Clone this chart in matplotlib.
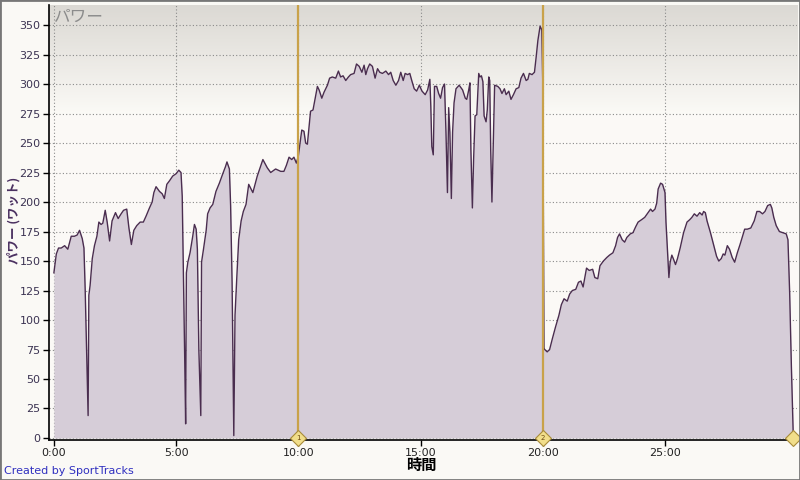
import matplotlib.pyplot as plt
import matplotlib.patches as patches
import numpy as np

plt.rcParams['font.family'] = ['DejaVu Sans', 'Noto Sans CJK JP']

# 時間 (分) とパワー (ワット)
minutes = [0.0, 0.1, 0.19, 0.3, 0.44, 0.57, 0.71, 0.84, 0.95, 1.05, 1.16, 1.23, 1.28, 1.35, 1.40,
           1.43, 1.48, 1.57, 1.66, 1.76, 1.84, 1.93, 2.0, 2.1, 2.18, 2.28, 2.38, 2.52, 2.63, 2.75,
           2.85, 2.98, 3.07, 3.17, 3.27, 3.39, 3.53, 3.66, 3.77, 3.91, 4.02, 4.09, 4.18, 4.32, 4.43,
           4.52, 4.62, 4.73, 4.86, 5.0, 5.11, 5.2, 5.25, 5.3, 5.35, 5.39, 5.42, 5.48, 5.57, 5.68,
           5.75, 5.82, 5.87, 5.93, 6.01, 6.04, 6.12, 6.23, 6.29, 6.39, 6.5, 6.63, 6.77, 6.91, 7.02,
           7.08, 7.18, 7.23, 7.29, 7.36, 7.41, 7.48, 7.56, 7.66, 7.75, 7.86, 7.97, 8.14, 8.32, 8.55,
           8.73, 8.87, 9.07, 9.28, 9.41, 9.51, 9.62, 9.73, 9.82, 9.92, 10.0, 10.05, 10.14, 10.23, 10.3,
           10.37, 10.44, 10.5, 10.6, 10.68, 10.78, 10.85, 10.96, 11.05, 11.19, 11.28, 11.39, 11.53, 11.64,
           11.73, 11.83, 11.94, 12.05, 12.14, 12.28, 12.38, 12.49, 12.6, 12.69, 12.76, 12.83, 12.92, 13.03,
           13.14, 13.24, 13.33, 13.44, 13.58, 13.69, 13.78, 13.88, 13.99, 14.1, 14.19, 14.29, 14.37, 14.47,
           14.56, 14.64, 14.74, 14.84, 14.95, 15.06, 15.19, 15.29, 15.38, 15.42, 15.46, 15.52, 15.57, 15.66,
           15.74, 15.82, 15.9, 15.98, 16.04, 16.1, 16.15, 16.2, 16.26, 16.31, 16.37, 16.45, 16.58, 16.72,
           16.83, 16.89, 16.97, 17.02, 17.06, 17.12, 17.17, 17.23, 17.3, 17.38, 17.43, 17.49, 17.55, 17.6,
           17.68, 17.73, 17.79, 17.83, 17.87, 17.92, 17.98, 18.03, 18.16, 18.25, 18.33, 18.43, 18.5, 18.61,
           18.7, 18.8, 18.91, 19.02, 19.11, 19.21, 19.32, 19.39, 19.45, 19.56, 19.66, 19.73, 19.8, 19.89,
           19.96, 20.0, 20.05, 20.08, 20.18, 20.28, 20.39, 20.52, 20.66, 20.76, 20.87, 21.0, 21.1, 21.21,
           21.35, 21.46, 21.56, 21.65, 21.79, 21.9, 22.04, 22.13, 22.25, 22.34, 22.48, 22.62, 22.73, 22.87,
           22.98, 23.06, 23.14, 23.25, 23.35, 23.44, 23.58, 23.69, 23.8, 23.9, 24.04, 24.17, 24.31, 24.41,
           24.49, 24.59, 24.66, 24.72, 24.82, 24.9, 25.0, 25.04, 25.1, 25.16, 25.21, 25.28, 25.34, 25.43,
           25.51, 25.62, 25.76, 25.9, 26.01, 26.1, 26.2, 26.31, 26.42, 26.52, 26.58, 26.65, 26.72, 26.86,
           27.0, 27.11, 27.2, 27.3, 27.38, 27.45, 27.55, 27.64, 27.75, 27.85, 27.96, 28.07, 28.17, 28.26,
           28.37, 28.51, 28.65, 28.76, 28.87, 28.99, 29.09, 29.2, 29.31, 29.37, 29.45, 29.55, 29.68, 29.82,
           29.96, 30.03, 30.1, 30.17, 30.25]
power = [140, 156, 161, 161, 163, 160, 171, 171, 172, 176, 169, 161, 126, 64, 19,
         121, 129, 152, 163, 171, 183, 181, 182, 193, 183, 167, 184, 191, 186, 190,
         193, 194, 178, 164, 176, 180, 183, 183, 188, 195, 200, 208, 213, 209, 207,
         203, 215, 218, 222, 224, 227, 225, 205, 140, 70, 12, 140, 149, 157, 171,
         181, 177, 160, 75, 19, 149, 160, 176, 190, 195, 198, 209, 216, 224, 230,
         234, 228, 197, 132, 2, 104, 135, 168, 184, 192, 198, 215, 208, 222, 236,
         229, 225, 228, 226, 226, 231, 238, 236, 238, 233, 239, 247, 261, 260, 250,
         249, 264, 277, 278, 287, 298, 295, 288, 293, 299, 305, 306, 305, 311,
         306, 307, 303, 306, 308, 309, 317, 315, 310, 316, 308, 313, 317, 315,
         305, 313, 310, 309, 311, 308, 310, 303, 299, 303, 310, 303, 309, 308,
         309, 303, 296, 294, 299, 294, 291, 295, 304, 281, 247, 240, 298, 298,
         292, 288, 297, 300, 259, 208, 280, 259, 203, 259, 284, 296, 299, 295,
         288, 287, 295, 301, 244, 195, 236, 273, 274, 309, 306, 307, 302, 273,
         268, 278, 306, 303, 244, 200, 253, 299, 298, 296, 292, 296, 291, 294,
         287, 291, 296, 297, 305, 309, 303, 304, 309, 308, 310, 323, 337, 349,
         346, 301, 76, 75, 73, 75, 84, 94, 104, 113, 118, 116, 122, 125,
         126, 132, 133, 128, 144, 142, 143, 136, 135, 146, 150, 153, 155, 157,
         163, 170, 173, 168, 166, 170, 173, 174, 179, 183, 185, 187, 191, 194,
         192, 194, 199, 211, 216, 215, 208, 183, 160, 136, 149, 155, 152, 147,
         152, 161, 174, 183, 185, 187, 190, 188, 191, 189, 192, 191, 184, 174,
         163, 154, 150, 152, 156, 155, 163, 160, 153, 149, 157, 164, 171, 177,
         177, 178, 184, 192, 192, 190, 192, 197, 198, 195, 187, 180, 175, 174,
         173, 168, 123, 61, 0]

laps = [10.0, 20.0, 30.25]
lap_labels = ['1', '2', '']
x_ticks = [0, 5, 10, 15, 20, 25]
x_labels = ['0:00', '5:00', '10:00', '15:00', '20:00', '25:00']
y_ticks = list(range(0, 351, 25))

fig = plt.figure(figsize=(8, 4.8), dpi=100, facecolor='#faf9f5')
ax = fig.add_axes([49/800, 1 - 440/480, 748/800, 435/480])
ax.set_xlim(-0.2, 30.4)
ax.set_ylim(-1.7, 367)

# 背景のグラデーション
grad = np.linspace(0, 1, 256).reshape(-1, 1)
grad = np.clip(grad * 4.0, 0, 1)
c_top = np.array([0.86, 0.85, 0.83])
c_bot = np.array([0.985, 0.98, 0.965])
img = c_top + (c_bot - c_top) * grad[..., None]
ax.imshow(img, extent=[0, 1, 0, 1], transform=ax.transAxes, origin='upper', aspect='auto', zorder=0)

ax.grid(True, color='#8a8a8a', ls=(0, (1, 2)), lw=0.8, zorder=1)
ax.set_axisbelow(True)

ax.fill_between(minutes, power, 0, color='#d6cdd8', zorder=2, lw=0)
ax.plot(minutes, power, color='#4a2d4f', lw=1.0, zorder=3)

for t, lab in zip(laps, lap_labels):
    if lab:
        ax.axvline(t, color='#c9a24a', lw=1.6, zorder=4)
    ax.plot(t, 0, marker='D', ms=8, mfc='#f1de8a', mec='#a88b3a', mew=0.8, zorder=6, clip_on=False)
    if lab:
        ax.text(t, 0, lab, fontsize=5, ha='center', va='center', color='#6b4a10', zorder=7)

ax.set_xticks(x_ticks)
ax.set_xticklabels(x_labels)
ax.set_yticks(y_ticks)
ax.tick_params(axis='both', direction='out', length=4, width=1, labelsize=8, pad=2)
ax.tick_params(axis='y', labelcolor='#3b3352')
ax.tick_params(axis='x', labelcolor='#222222')

for s in ['top', 'right']:
    ax.spines[s].set_visible(False)
for s in ['left', 'bottom']:
    ax.spines[s].set_color('black')
    ax.spines[s].set_linewidth(1.2)
    ax.spines[s].set_zorder(5)

ax.text(0.006, 0.99, 'パワー', transform=ax.transAxes, fontsize=12, style='italic',
        color='#8c8c8c', ha='left', va='top', family=['Noto Sans CJK JP', 'DejaVu Sans'])
fig.text(14/800, 1 - 220/480, 'パワー (ワット)', rotation=90, fontsize=9, fontweight='bold',
         color='#4a3060', ha='center', va='center', family=['Noto Sans CJK JP', 'DejaVu Sans'])
fig.text(421/800, 1 - 465/480, '時間', fontsize=11, fontweight='bold', color='black',
         ha='center', va='center', family=['Noto Sans CJK JP', 'DejaVu Sans'])
fig.text(4/800, 1 - 471/480, 'Created by SportTracks', fontsize=8, color='#3030c0',
         ha='left', va='center')

fig.add_artist(patches.Rectangle((0, 0), 1, 1, transform=fig.transFigure, fill=False,
                                 edgecolor='#777777', lw=2))

fig.savefig('out.png', dpi=100, facecolor=fig.get_facecolor())
